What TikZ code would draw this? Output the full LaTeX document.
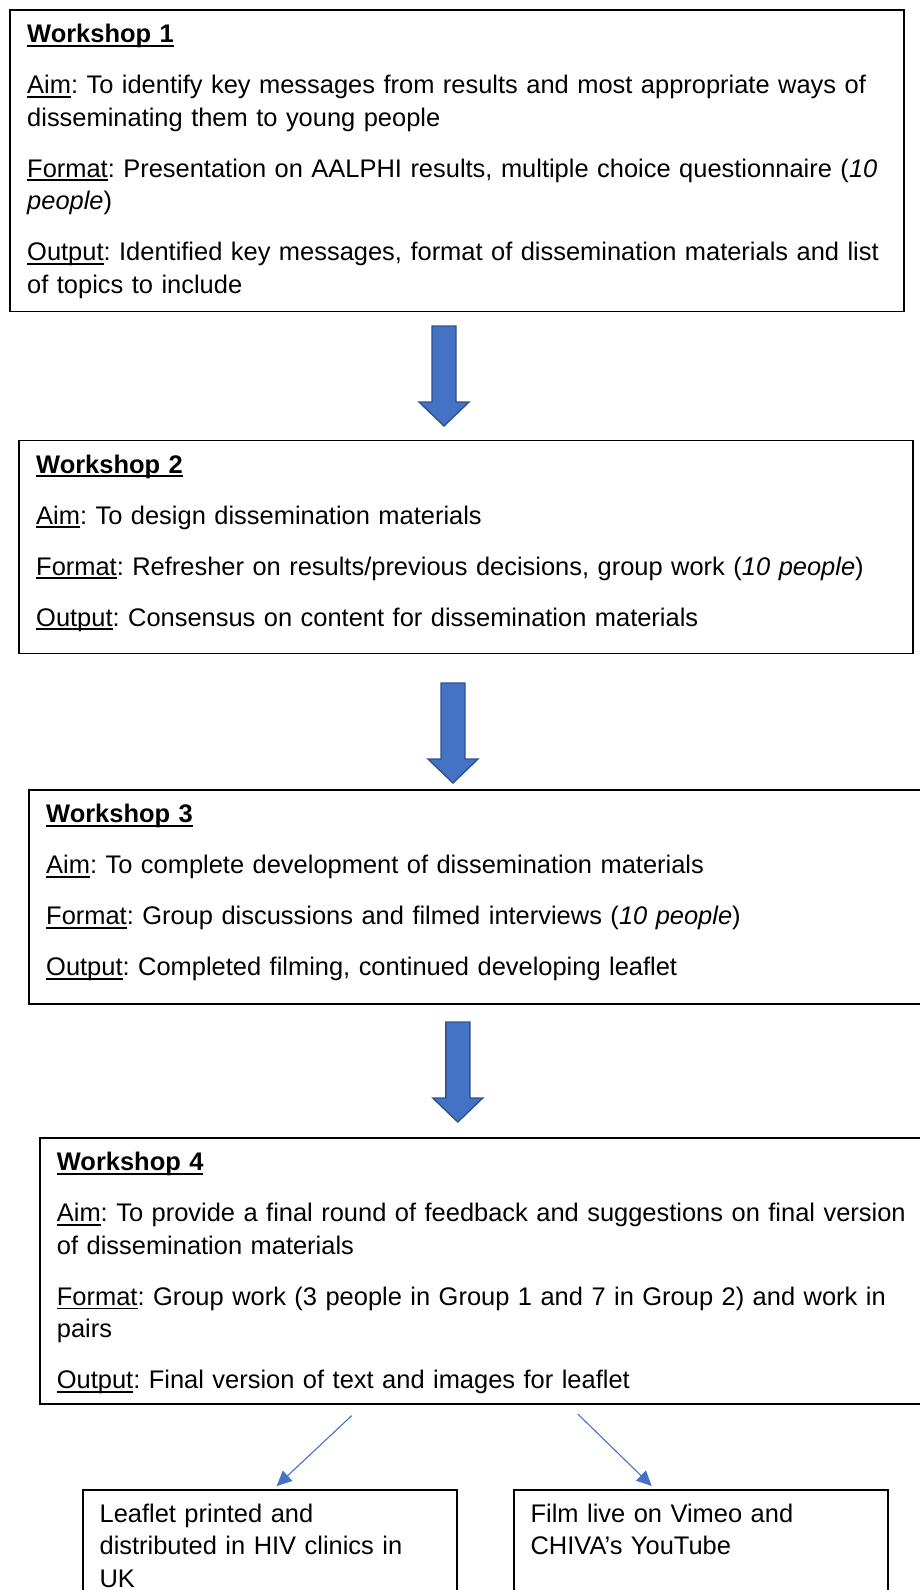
\documentclass[tikz,border=0pt]{standalone}
\usepackage{fontspec}
\setmainfont{Liberation Sans}
\usetikzlibrary{arrows.meta}
\definecolor{officeblue}{HTML}{4472C4}
\definecolor{officeedge}{HTML}{2F528F}
\newlength\ulwd
\newcommand\ulword[1]{\leavevmode\settowidth\ulwd{#1}\rlap{\rule[-4pt]{\ulwd}{1.6pt}}#1}
\newcommand\pgap{\\[18.5pt]}
% block arrow: centre x, top y, tip y
\newcommand\blockarrow[3]{\filldraw[bigarrow] (#1-12,#2) -- (#1+12,#2) -- (#1+12,#3-24) -- (#1+25,#3-24) -- (#1,#3) -- (#1-25,#3-24) -- (#1-12,#3-24) -- cycle;}
\tikzstyle{stagebox} = [rectangle, draw=black, line width=1.8pt, anchor=north west, minimum width=893.7pt, inner sep=0pt]
\tikzstyle{stagetext} = [anchor=base west, inner sep=0pt, text width=890pt, align=left, font=\fontsize{25.45}{32.5}\selectfont\frenchspacing]
\tikzstyle{outbox} = [rectangle, draw=black, line width=1.8pt, anchor=north west, minimum width=374.5pt, minimum height=130pt, inner sep=0pt]
\tikzstyle{bigarrow} = [draw=officeedge, line width=1.4pt, fill=officeblue, line join=miter]
\tikzstyle{thinarrow} = [->, >={Triangle[length=15pt, width=14pt]}, draw=officeblue, line width=1.1pt]
\begin{document}
\begin{tikzpicture}[x=1pt, y=-1pt]

            \useasboundingbox (0,0) rectangle (920,1590);
            \clip (0,0) rectangle (920,1590);
            \fill[white] (0,0) rectangle (920,1590);

            % workshops
            \node (w1) [stagebox, minimum height=301.5pt] at (9,9) {};
            \node (w1txt) [stagetext] at ([xshift=18pt, yshift=-33.5pt]w1.north west) {\textbf{\ulword{Workshop 1}}\pgap
                \ulword{Aim}: To identify key messages from results and most appropriate ways of\\
                disseminating them to young people\pgap
                \ulword{Format}: Presentation on AALPHI results, multiple choice questionnaire (\textit{10}\\
                \textit{people})\pgap
                \ulword{Output}: Identified key messages, format of dissemination materials and list\\
                of topics to include};

            \node (w2) [stagebox, minimum height=213pt] at (18,439.5) {};
            \node (w2txt) [stagetext] at ([xshift=18pt, yshift=-33.5pt]w2.north west) {\textbf{\ulword{Workshop 2}}\pgap
                \ulword{Aim}: To design dissemination materials\pgap
                \ulword{Format}: Refresher on results/previous decisions, group work (\textit{10 people})\pgap
                \ulword{Output}: Consensus on content for dissemination materials};

            \node (w3) [stagebox, minimum height=214pt] at (28,789) {};
            \node (w3txt) [stagetext] at ([xshift=18pt, yshift=-33.5pt]w3.north west) {\textbf{\ulword{Workshop 3}}\pgap
                \ulword{Aim}: To complete development of dissemination materials\pgap
                \ulword{Format}: Group discussions and filmed interviews (\textit{10 people})\pgap
                \ulword{Output}: Completed filming, continued developing leaflet};

            \node (w4) [stagebox, minimum height=266pt] at (38.7,1137.3) {};
            \node (w4txt) [stagetext] at ([xshift=18pt, yshift=-33.5pt]w4.north west) {\textbf{\ulword{Workshop 4}}\pgap
                \ulword{Aim}: To provide a final round of feedback and suggestions on final version\\
                of dissemination materials\pgap
                \ulword{Format}: Group work (3 people in Group 1 and 7 in Group 2) and work in\\
                pairs\pgap
                \ulword{Output}: Final version of text and images for leaflet};

            % outputs
            \node (leaflet) [outbox] at (81.7,1488.7) {};
            \node (leaflettxt) [stagetext] at ([xshift=17.7pt, yshift=-33.7pt]leaflet.north west) {Leaflet printed and\\
                distributed in HIV clinics in\\
                UK};

            \node (film) [outbox] at (512.7,1488.7) {};
            \node (filmtxt) [stagetext] at ([xshift=17.7pt, yshift=-33.7pt]film.north west) {Film live on Vimeo and\\
                CHIVA’s YouTube};

            % block arrows between workshops
            \blockarrow{444}{326}{426}
            \blockarrow{453}{683}{783}
            \blockarrow{457.8}{1022}{1122}

            \coordinate (s1) at ([xshift=313pt, yshift=-10.5pt]w4.south west);
            \coordinate (e1) at ([xshift=195pt, yshift=2.7pt]leaflet.north west);
            \coordinate (s2) at ([xshift=539pt, yshift=-8.8pt]w4.south west);
            \coordinate (e2) at ([xshift=139pt, yshift=2.7pt]film.north west);

            \draw [thinarrow] (s1) -- (e1);
            \draw [thinarrow] (s2) -- (e2);

        \end{tikzpicture}
\end{document}
